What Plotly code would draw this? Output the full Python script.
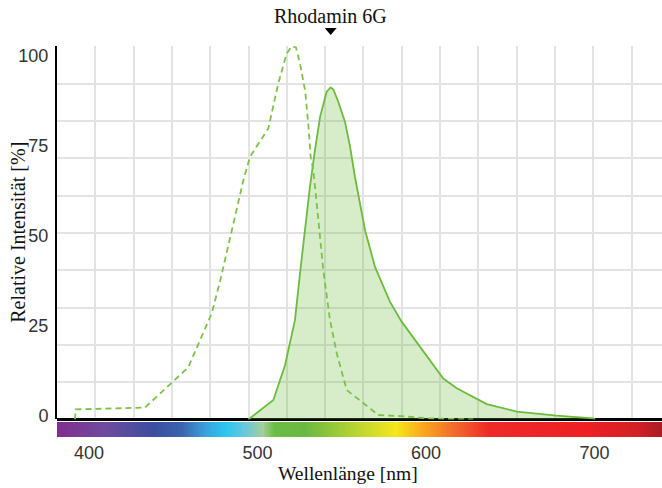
import numpy as np
import plotly.graph_objects as go

# Excitation spectrum (dashed) – wavelength [nm] / relative intensity [%]
exc_nm = [391.7, 392.0, 433.2, 458.9, 472.8, 477.7, 491.6, 495.5, 506.4, 512.3,
          517.3, 520.3, 522.8, 525.2, 528.2, 530.1, 531.5, 533.1, 536.1, 539.0,
          543.0, 547.0, 552.9, 562.8, 571.7, 582.6, 602.3, 628.0]
exc_val = [0.0, 2.8, 3.3, 14.5, 29.5, 38.3, 66.5, 73.0, 80.9, 93.4,
           101.7, 103.7, 103.4, 98.9, 91.5, 82.3, 73.0, 69.3, 55.4, 41.5,
           27.6, 18.4, 8.2, 4.5, 1.25, 1.0, 0.3, 0.0]

# Emission spectrum (solid, filled)
em_nm = [494.5, 509.4, 516.3, 522.2, 525.2, 528.2, 531.1, 534.1, 537.1, 541.0,
         543.4, 545.0, 547.9, 551.9, 554.9, 557.8, 563.8, 569.7, 578.6, 585.5,
         596.4, 602.3, 610.2, 618.2, 636.0, 653.8, 677.5, 699.2, 700.3]
em_val = [0.0, 5.4, 15.1, 27.6, 40.6, 52.6, 64.7, 74.9, 84.1, 91.1,
          92.3, 91.7, 88.3, 82.7, 75.8, 67.4, 52.6, 42.4, 32.7, 27.2,
          20.2, 16.5, 11.4, 8.7, 4.3, 2.2, 1.05, 0.33, 0.0]

dye_name = "Rhodamin 6G"
x_ticks = [400, 500, 600, 700]
y_ticks = [0, 25, 50, 75, 100]

X_RANGE = [381, 740]
Y_RANGE = [0, 103.8]

# visible-spectrum strip colours (wavelength -> colour)
spec_nm = [381, 409, 439, 455, 469, 481, 494, 503, 510, 528, 558, 582, 598, 617, 637, 696, 726, 740]
spec_col = ["#812c8e", "#6f4a9e", "#3a4f9f", "#3b64ad", "#3aa0dc", "#2dc6f0", "#70c8d8",
            "#a3cf98", "#6bbd45", "#6ab843", "#b8d432", "#f5e81c", "#f9a81e", "#f26a2c",
            "#ee2a27", "#ed1f24", "#d02026", "#a81d22"]

GREEN = "#6cbb3c"
SERIF = "Liberation Serif, Times New Roman, serif"
SANS = "Liberation Sans, Arial, sans-serif"

# plot-area geometry in pixels (used to place titles)
W, H = 662, 488
ML, MR, MT, MB = 57, 0, 46, 51
plot_w = W - ML - MR
plot_h = H - MT - MB


def px_x(px):
    return (px - ML) / plot_w


def px_y(py):
    return (H - MB - py) / plot_h


fig = go.Figure()

fig.add_trace(go.Scatter(
    x=em_nm, y=em_val, mode="lines", fill="tozeroy",
    fillcolor="rgba(108,187,60,0.27)",
    line=dict(color=GREEN, width=1.8), hoverinfo="skip", xaxis="x", yaxis="y"))

fig.add_trace(go.Scatter(
    x=exc_nm, y=exc_val, mode="lines",
    line=dict(color="#7cc24a", width=1.8, dash="6px,4px"),
    hoverinfo="skip", xaxis="x", yaxis="y"))

# spectrum strip under the plot
lam = np.arange(X_RANGE[0], X_RANGE[1] + 1)
lo, hi = X_RANGE
cscale = [[(w - lo) / (hi - lo), c] for w, c in zip(spec_nm, spec_col)]
fig.add_trace(go.Heatmap(
    x=lam, y=[0], z=[lam], colorscale=cscale, zmin=lo, zmax=hi,
    showscale=False, hoverinfo="skip", xaxis="x", yaxis="y2"))

# emission maximum, flagged by a small downward triangle above the plot
peak_nm = em_nm[int(np.argmax(em_val))]
fig.add_shape(
    type="path", xref="x", yref="paper",
    xsizemode="pixel", ysizemode="pixel",
    xanchor=peak_nm, yanchor=px_y(31.5),
    path="M -6 3.5 L 6 3.5 L 0 -3.5 Z",
    fillcolor="black", line=dict(width=0),
)

grid = "#e3e3e3"
fig.update_layout(
    width=W, height=H,
    margin=dict(l=ML, r=MR, t=MT, b=MB),
    paper_bgcolor="white", plot_bgcolor="white",
    showlegend=False,
    xaxis=dict(
        range=X_RANGE, anchor="y2", tickvals=x_ticks,
        ticks="", showgrid=False, zeroline=False, showline=False,
        tickfont=dict(family=SANS, size=18, color="#333"),
        ticklabelstandoff=3,
        minor=dict(tick0=381, dtick=22.73, showgrid=True, gridcolor=grid, gridwidth=2),
    ),
    yaxis=dict(
        range=Y_RANGE, domain=[0.04476, 1], tickvals=y_ticks,
        ticks="", showgrid=False,
        zeroline=True, zerolinecolor="black", zerolinewidth=3,
        showline=True, linecolor="black", linewidth=2,
        tickfont=dict(family=SANS, size=18, color="#333"),
        ticklabelshift=-4, ticklabelstandoff=3,
        minor=dict(tick0=0, dtick=10.375, showgrid=True, gridcolor=grid, gridwidth=2),
    ),
    yaxis2=dict(
        domain=[0, 0.0384], range=[-0.5, 0.5], showticklabels=False,
        ticks="", showgrid=False, zeroline=False, showline=False,
    ),
    annotations=[
        dict(text=dye_name, x=peak_nm, xref="x", y=px_y(16), yref="paper",
             showarrow=False, xanchor="center", yanchor="middle",
             font=dict(family=SERIF, size=20, color="#111")),
        dict(text="Wellenlänge [nm]", x=px_x(348), xref="paper", y=px_y(473), yref="paper",
             showarrow=False, xanchor="center", yanchor="middle",
             font=dict(family=SERIF, size=19.5, color="#111")),
        dict(text="Relative Intensität [%]", x=px_x(18), xref="paper",
             y=px_y(232.75), yref="paper", textangle=-90,
             showarrow=False, xanchor="center", yanchor="middle",
             font=dict(family=SERIF, size=20, color="#111")),
    ],
)

fig.write_html("out.html")
